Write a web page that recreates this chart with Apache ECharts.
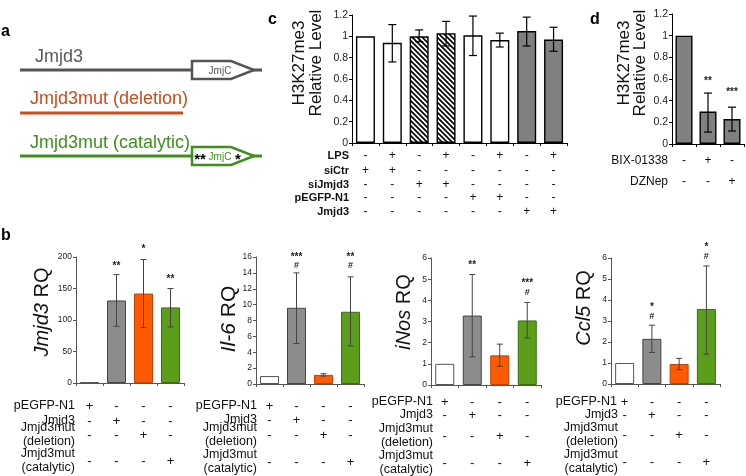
<!DOCTYPE html>
<html><head><meta charset="utf-8">
<script src="https://cdn.jsdelivr.net/npm/echarts@6/dist/echarts.min.js"></script>
<style>html,body{margin:0;padding:0;background:#fff}#c{width:746px;height:476px}</style>
</head><body><div id="c"></div>
<script>
// ================= DATA =================
// Panel c
const cValues   = [1.00, 0.94, 1.00, 1.03, 1.01, 0.965, 1.05, 0.97];
const cErrLow   = [null, 0.76, 0.95, 0.91, 0.82, 0.90, 0.91, 0.86];
const cErrHigh  = [null, 1.11, 1.06, 1.14, 1.19, 1.03, 1.18, 1.085];
const cRowNames = ['LPS', 'siCtr', 'siJmjd3', 'pEGFP-N1', 'Jmjd3'];
const cRowMarks = [
  ['-','+','-','+','-','+','-','+'],
  ['+','+','-','-','-','-','-','-'],
  ['-','-','+','+','-','-','-','-'],
  ['-','-','-','-','+','+','-','-'],
  ['-','-','-','-','-','-','+','+']
];
const cYTitle = 'H3K27me3\nRelative Level';

// Panel d
const dValues   = [1.00, 0.30, 0.23];
const dErrLow   = [null, 0.11, 0.12];
const dErrHigh  = [null, 0.47, 0.34];
const dNoteIdx  = [1, 2];
const dNoteText = ['**', '***'];
const dNoteAt   = [0.58, 0.48];
const dRowNames = ['BIX-01338', 'DZNep'];
const dRowMarks = [['-','+','-'], ['-','-','+']];

// Panel b (shared rows)
const bRowNames = ['pEGFP-N1', 'Jmjd3', 'Jmjd3mut\n(deletion)', 'Jmjd3mut\n(catalytic)'];
const bRowMarks = [
  ['+','-','-','-'],
  ['-','+','-','-'],
  ['-','-','+','-'],
  ['-','-','-','+']
];
// Jmjd3 RQ
const jmjd3Values = [1, 131, 142, 120];
const jmjd3Low    = [null, 90, 88, 89];
const jmjd3High   = [null, 172, 196, 150];
const jmjd3NoteIdx  = [1, 2, 3];
const jmjd3NoteText = ['**', '*', '**'];
const jmjd3NoteAt   = [186, 212, 164];
// Il-6 RQ
const il6Values = [1.0, 9.6, 1.15, 9.1];
const il6Low    = [null, 5.1, 1.0, 4.8];
const il6High   = [null, 14.0, 1.3, 13.5];
const il6NoteIdx  = [1, 1, 3, 3];
const il6NoteText = ['***', '#', '**', '#'];
const il6NoteAt   = [16.0, 14.9, 16.0, 14.9];
// iNos RQ
const inosValues = [1.0, 3.28, 1.4, 3.05];
const inosLow    = [null, 1.33, 0.88, 2.22];
const inosHigh   = [null, 5.22, 1.93, 3.90];
const inosNoteIdx  = [1, 3, 3];
const inosNoteText = ['**', '***', '#'];
const inosNoteAt   = [5.65, 4.8, 4.35];
// Ccl5 RQ
const ccl5Values = [1.0, 2.15, 0.95, 3.57];
const ccl5Low    = [null, 1.50, 0.68, 1.42];
const ccl5High   = [null, 2.80, 1.22, 5.62];
const ccl5NoteIdx  = [1, 1, 3, 3];
const ccl5NoteText = ['*', '#', '*', '#'];
const ccl5NoteAt   = [3.65, 3.2, 6.5, 6.05];

// ================= BUILD =================
const FONT = 'Arial, "Liberation Sans", Helvetica, sans-serif';

const hatch = document.createElement('canvas');
hatch.width = 5; hatch.height = 5;
(function(){
  const ctx = hatch.getContext('2d');
  ctx.fillStyle = '#fff'; ctx.fillRect(0,0,5,5);
  ctx.strokeStyle = '#000'; ctx.lineWidth = 1.7;
  ctx.beginPath();
  ctx.moveTo(-1,-1); ctx.lineTo(6,6);
  ctx.moveTo(-1,4); ctx.lineTo(1,6);
  ctx.moveTo(4,-1); ctx.lineTo(6,1);
  ctx.stroke();
})();

const ST = {
  cWhite: {color:'#fff', borderColor:'#000', borderWidth:1.4},
  cHatch: {color:{image:hatch, repeat:'repeat'}, borderColor:'#000', borderWidth:1.4},
  cGray:  {color:'#808080', borderColor:'#000', borderWidth:1.4},
  bWhite: {color:'#fff', borderColor:'#555', borderWidth:1},
  bGray:  {color:'#8c8c8c', borderColor:'#444', borderWidth:1},
  bOrange:{color:'#ff5a00', borderColor:'#c04000', borderWidth:1},
  bGreen: {color:'#5a9e1a', borderColor:'#3a6e10', borderWidth:1}
};
const cStyles = [ST.cWhite, ST.cWhite, ST.cHatch, ST.cHatch, ST.cWhite, ST.cWhite, ST.cGray, ST.cGray];
const dStyles = [ST.cGray, ST.cGray, ST.cGray];
const bStyles = [ST.bWhite, ST.bGray, ST.bOrange, ST.bGreen];

const grids = [], xAxes = [], yAxes = [], series = [];

function addPanel(p) {
  const g = grids.length;
  grids.push({left:p.left, top:p.top, width:p.width, height:p.height, containLabel:false, outerBoundsMode:'none'});
  const cats = p.values.map((_, i) => String(i));
  const xi = xAxes.length;
  xAxes.push({type:'category', gridIndex:g, data:cats, position:'bottom',
    axisLine:{show:true, lineStyle:{color:p.axisColor, width:1}},
    axisTick:{show:true, length:3, interval:0, lineStyle:{color:p.axisColor}},
    axisLabel:{show:false}, splitLine:{show:false}});
  p.rowNames.forEach((name, r) => {
    xAxes.push({type:'category', gridIndex:g, data:cats, position:'bottom', offset:p.rowOffsets[r],
      axisLine:{show:false}, axisTick:{show:false}, splitLine:{show:false},
      axisLabel:{show:true, interval:0, margin:0, verticalAlign:'middle', fontSize:p.markSize,
        color:'#111', fontFamily:FONT, formatter:(v, i) => p.rowMarks[r][i]},
      name:name, nameLocation:'start', nameGap:p.nameGap,
      nameTextStyle:{align:'right', verticalAlign:'middle', fontSize:p.rowFontSize,
        fontWeight:p.rowWeight, color:'#111', fontFamily:FONT, lineHeight:p.rowLineHeight}});
  });
  const yi = yAxes.length;
  yAxes.push({type:'value', gridIndex:g, min:0, max:p.max, interval:p.interval,
    axisLine:{show:true, lineStyle:{color:p.axisColor, width:1}},
    axisTick:{show:true, length:3, lineStyle:{color:p.axisColor}},
    axisLabel:{fontSize:p.tickSize, color:'#222', margin:4, fontFamily:FONT},
    splitLine:{show:false}});
  series.push({type:'bar', xAxisIndex:xi, yAxisIndex:yi, barWidth:p.barWidth, animation:false,
    data:p.values.map((v, i) => ({value:v, itemStyle:p.styles[i]}))});
  const errData = [];
  p.low.forEach((l, i) => { if (l != null) errData.push([i, l, p.high[i]]); });
  series.push({type:'custom', xAxisIndex:xi, yAxisIndex:yi, z:5, animation:false, clip:false,
    data:errData, encode:{x:0, y:[1,2]},
    renderItem:(params, api) => {
      const x = api.value(0);
      const lo = api.coord([x, api.value(1)]);
      const hi = api.coord([x, api.value(2)]);
      const w = p.capW;
      const st = {stroke:p.errColor, lineWidth:p.errWidth};
      return {type:'group', children:[
        {type:'line', shape:{x1:lo[0], y1:lo[1], x2:hi[0], y2:hi[1]}, style:st},
        {type:'line', shape:{x1:lo[0]-w, y1:lo[1], x2:lo[0]+w, y2:lo[1]}, style:st},
        {type:'line', shape:{x1:hi[0]-w, y1:hi[1], x2:hi[0]+w, y2:hi[1]}, style:st}
      ]};
    }});
  if (p.noteIdx) {
    series.push({type:'custom', xAxisIndex:xi, yAxisIndex:yi, z:6, animation:false, clip:false,
      data:p.noteIdx.map((ix, k) => [ix, p.noteAt[k]]), encode:{x:0, y:1},
      renderItem:(params, api) => {
        const pt = api.coord([api.value(0), api.value(1)]);
        const t = p.noteText[params.dataIndex];
        return {type:'text', x:pt[0], y:pt[1], style:{text:t, fill:'#222',
          fontSize:(t.indexOf('#') >= 0 ? 9 : 10), fontWeight:'bold', fontFamily:FONT,
          align:'center', verticalAlign:'middle', textAlign:'center', textVerticalAlign:'middle'}};
      }});
  }
}

const cCommon = {axisColor:'#000', errColor:'#000', errWidth:1.2, capW:4, tickSize:10.5,
  markSize:12, rowFontSize:11, rowWeight:'bold', rowLineHeight:13};
addPanel(Object.assign({}, cCommon, {left:352, top:15, width:215, height:128, max:1.2, interval:0.2,
  values:cValues, low:cErrLow, high:cErrHigh, styles:cStyles, barWidth:19,
  rowNames:cRowNames, rowMarks:cRowMarks, rowOffsets:[13, 28, 42, 55, 69], nameGap:3}));
addPanel(Object.assign({}, cCommon, {left:672, top:14, width:72, height:130, max:1.2, interval:0.2,
  values:dValues, low:dErrLow, high:dErrHigh, styles:dStyles, barWidth:17,
  noteIdx:dNoteIdx, noteText:dNoteText, noteAt:dNoteAt,
  rowNames:dRowNames, rowMarks:dRowMarks, rowOffsets:[17, 38], nameGap:4, rowFontSize:12, rowWeight:'normal'}));

const bCommon = {axisColor:'#555', errColor:'#444', errWidth:1, capW:3, tickSize:8.5,
  markSize:13, rowFontSize:12.5, rowWeight:'normal', rowLineHeight:14, barWidth:19,
  rowNames:bRowNames, rowMarks:bRowMarks, styles:bStyles};
addPanel(Object.assign({}, bCommon, {left:76, top:257, width:108, height:126, max:200, interval:50,
  values:jmjd3Values, low:jmjd3Low, high:jmjd3High,
  noteIdx:jmjd3NoteIdx, noteText:jmjd3NoteText, noteAt:jmjd3NoteAt,
  rowOffsets:[23, 38, 52, 78], nameGap:1}));
addPanel(Object.assign({}, bCommon, {left:256, top:257, width:108, height:127, max:16, interval:2,
  values:il6Values, low:il6Low, high:il6High,
  noteIdx:il6NoteIdx, noteText:il6NoteText, noteAt:il6NoteAt,
  rowOffsets:[22, 36, 51, 78], nameGap:-1}));
addPanel(Object.assign({}, bCommon, {left:431, top:258, width:110, height:127, max:6, interval:1,
  values:inosValues, low:inosLow, high:inosHigh,
  noteIdx:inosNoteIdx, noteText:inosNoteText, noteAt:inosNoteAt,
  rowOffsets:[17, 30, 51, 78], nameGap:-2}));
addPanel(Object.assign({}, bCommon, {left:611, top:258, width:109, height:126, max:6, interval:1,
  values:ccl5Values, low:ccl5Low, high:ccl5High,
  noteIdx:ccl5NoteIdx, noteText:ccl5NoteText, noteAt:ccl5NoteAt,
  rowOffsets:[18, 31, 51, 78], nameGap:-7}));

// ---------- graphics (panel a diagram, titles, panel letters) ----------
function txt(x, y, text, opts) {
  return Object.assign({type:'text', x:x, y:y, silent:true, style:Object.assign({text:text, fill:'#000',
    fontFamily:FONT, fontSize:16, align:'left', verticalAlign:'middle',
    textAlign:'left', textVerticalAlign:'middle'}, opts || {})}, {});
}
function rotTxt(x, y, text, opts) {
  const e = txt(x, y, text, Object.assign({align:'center', textAlign:'center'}, opts));
  e.rotation = Math.PI / 2;
  return e;
}
const GRAY = '#555', ORANGE = '#cc4a1c', GREEN = '#3f8f1f';
const graphics = [
  txt(1, 32, 'a', {fontWeight:'bold', fontSize:16}),
  txt(268, 20, 'c', {fontWeight:'bold', fontSize:16}),
  txt(590, 20, 'd', {fontWeight:'bold', fontSize:16}),
  txt(1, 236, 'b', {fontWeight:'bold', fontSize:16}),
  // Jmjd3 wild type
  txt(35, 57, 'Jmjd3', {fill:'#5a5a5a', fontSize:18}),
  {type:'line', shape:{x1:20, y1:70, x2:262, y2:70}, style:{stroke:GRAY, lineWidth:3}},
  {type:'polygon', shape:{points:[[192,61],[231,61],[254,70],[231,79],[192,79]]}, style:{fill:'#fff', stroke:GRAY, lineWidth:2.5}},
  txt(220, 71, 'JmjC', {fill:GRAY, fontSize:10, align:'center', textAlign:'center'}),
  // deletion
  txt(30, 99, 'Jmjd3mut (deletion)', {fill:ORANGE, fontSize:18}),
  {type:'line', shape:{x1:20, y1:113, x2:183, y2:113}, style:{stroke:ORANGE, lineWidth:3}},
  // catalytic
  txt(30, 143, 'Jmjd3mut (catalytic)', {fill:GREEN, fontSize:18}),
  {type:'line', shape:{x1:20, y1:156, x2:262, y2:156}, style:{stroke:GREEN, lineWidth:3}},
  {type:'polygon', shape:{points:[[192,147],[231,147],[254,156],[231,165],[192,165]]}, style:{fill:'#fff', stroke:GREEN, lineWidth:2.5}},
  txt(220, 157, 'JmjC', {fill:GREEN, fontSize:10, align:'center', textAlign:'center'}),
  txt(200, 160, '**', {fontWeight:'bold', fontSize:15, align:'center', textAlign:'center'}),
  txt(238, 160, '*', {fontWeight:'bold', fontSize:15, align:'center', textAlign:'center'}),
  // y titles
  rotTxt(308, 63, cYTitle, {fontSize:17, lineHeight:17, fill:'#111'}),
  rotTxt(632, 63, cYTitle, {fontSize:17, lineHeight:16, fill:'#111'}),
  rotTxt(42, 312, '{i|Jmjd3} RQ', {fontSize:20, fill:'#111', rich:{i:{fontStyle:'italic', fontSize:20, fontFamily:FONT, fill:'#111'}}}),
  rotTxt(229, 319, '{i|Il-6} RQ', {fontSize:21, fill:'#111', rich:{i:{fontStyle:'italic', fontSize:21, fontFamily:FONT, fill:'#111'}}}),
  rotTxt(404, 312, '{i|iNos} RQ', {fontSize:20, fill:'#111', rich:{i:{fontStyle:'italic', fontSize:20, fontFamily:FONT, fill:'#111'}}}),
  rotTxt(584, 308, '{i|Ccl5} RQ', {fontSize:20, fill:'#111', rich:{i:{fontStyle:'italic', fontSize:20, fontFamily:FONT, fill:'#111'}}})
];

const chart = echarts.init(document.getElementById('c'), null, {renderer:'canvas'});
chart.setOption({
  animation:false,
  backgroundColor:'#fff',
  textStyle:{fontFamily:FONT},
  grid:grids, xAxis:xAxes, yAxis:yAxes, series:series,
  graphic:{elements:graphics}
});
</script></body></html>
